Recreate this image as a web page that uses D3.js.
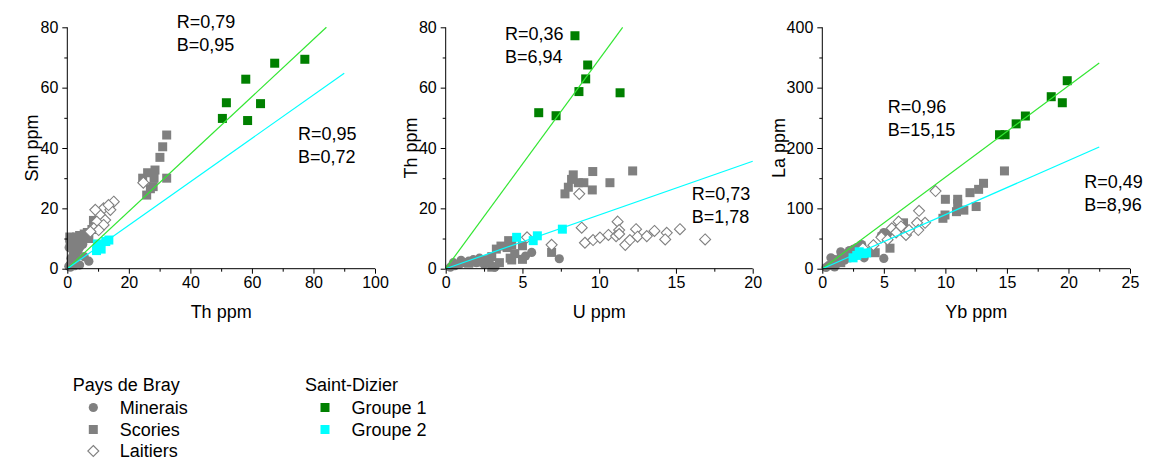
<!DOCTYPE html>
<html><head><meta charset="utf-8">
<script src="https://cdn.jsdelivr.net/npm/d3@7"></script>
<style>body{margin:0;background:#fff}svg{display:block}text{font-family:"Liberation Sans",Arial,sans-serif;fill:#000}</style>
</head><body>
<script>
// ---------- DATA ----------
// Panel 1: Th (x) vs Sm (y)
const p1Minerais = [[0.5,0.8],[1,1.5],[1.5,2.2],[2,2.5],[2.5,3],[3,4],[1.2,3.5],[2,5],[3.5,6],[4,7],[5,8],[2.8,7.5],[1.5,6.5],[4.5,9],[6,10],[3,9.5],[1,0.5],[5.5,4],[7,2.5],[4,1.2],[0.8,9],[0.6,7],[2.5,1]];
const p1Scories = [[1,9],[2,10],[3,10.5],[4,11],[5.5,11.5],[6.5,12],[7,10],[8.5,16],[8,13],[2,8],[3.5,8.5],[5,9.5],[0.8,10.5],
  [32.3,44.3],[31,40.4],[30.1,36.9],[28.5,32.7],[26.1,31.8],[32.3,30],[28.2,30],[24.5,30],[27.9,27.2],[25.8,24.4],[27,26.5]];
const p1Laitiers = [[15.1,22.2],[11.8,20],[14,19.5],[10.7,17.8],[12.3,16.1],[9.6,15.6],[11.8,14.5],[8.6,13.4],[10.2,12.8],[7.5,12.3],[13.4,21.1],[9.1,19.5],[24.7,28.5]];
const p1Groupe1 = [[67.4,68.1],[77.2,69.4],[58.0,62.8],[51.7,55.0],[62.8,54.7],[50.4,49.8],[58.6,49.1]];
const p1Groupe2 = [[9.5,6],[10.5,7.5],[11,6.5],[12.5,9],[13.5,9.5],[9.8,8.2]];
// Panel 2: U (x) vs Th (y)
const p2Minerais = [[0.3,0.5],[0.6,1],[0.9,1.5],[1.2,2],[1.5,2.5],[2,2],[2.5,1.5],[3,1],[3.2,0.5],[1.8,3],[2.2,3.5],[1,2.8],[5.6,5.4],[7.4,3.3],[5.2,4.2],[0.5,2],[2.8,2.6]];
const p2Scories = [[2.5,3],[3,4],[3.3,6.5],[3.6,7.5],[4,7],[4.3,8],[4.5,5],[4.2,3.5],[3.5,2],[3.0,0.5],[2,2.2],[1.5,1.8],[5,7.6],[5,3.1],[6.9,5.4],[4.1,9.3],[4.3,2.9],
  [8.31,31.1],[9.58,32.2],[12.18,32.4],[8.2,29.6],[8.64,28.5],[9.0,28.5],[10.7,28.5],[7.99,27],[9.55,26.1],[7.77,24.8]];
const p2Laitiers = [[8.7,24.8],[11.2,15.6],[8.86,13.6],[15.26,13.1],[12.4,13.1],[13.6,12.5],[11.3,12.8],[16.9,9.7],[14.4,11.9],[9.07,8.6],[9.6,9.5],[10.05,10.3],[10.6,11.2],[11.1,10.8],[11.7,7.9],[12.0,9.5],[12.5,10.6],[13.1,10.8],[14.3,9.7],[6.9,7.9],[5.3,10.4],[11.3,11.5]];
const p2Groupe1 = [[8.42,77.2],[9.25,67.5],[9.12,62.9],[8.68,58.7],[11.36,58.3],[6.06,51.7],[7.19,50.7]];
const p2Groupe2 = [[4.62,10.4],[5.97,10.9],[5.7,9.3],[7.6,13.1]];
// Panel 3: Yb (x) vs La (y)
const p3Minerais = [[0.5,5],[0.8,10],[1,15],[1.2,8],[1.5,20],[1.8,14],[2,25],[2.2,30],[0.3,2],[1,3],[2.5,32],[3.4,18],[5,17],[4.8,55],[5,60],[5.3,58],[2.8,35],[1.5,28],[0.7,18],[3.2,40]];
const p3Scories = [[2,18],[2.5,22],[3,30],[3.5,28],[4.3,26.5],[5.5,34],[6.6,76],[6,65],[1.5,10],
  [14.8,162],[13.1,141.5],[12.7,131.5],[12.0,126],[10.0,115],[11,115],[11,108],[12.5,103],[11.5,97],[10.9,94.5],[9.97,89],[9.8,83.5]];
const p3Laitiers = [[9.2,128.7],[7.86,96],[8.35,76],[7.7,76],[7.8,64],[6.2,78],[5.65,67],[6.0,60],[6.8,56],[4.8,52],[7.05,64],[4.15,39],[3.3,34],[5.3,48],[6.4,70]];
const p3Groupe1 = [[19.9,311.5],[18.6,285],[19.5,275],[16.5,253],[15.75,240],[14.85,222],[14.4,222]];
const p3Groupe2 = [[2.5,18],[3,28],[3.3,25],[3.6,26],[2.8,22]];

const xTicks1 = [0,20,40,60,80,100], yTicks1 = [0,20,40,60,80];
const xTicks2 = [0,5,10,15,20],      yTicks2 = [0,20,40,60,80];
const xTicks3 = [0,5,10,15,20,25],   yTicks3 = [0,100,200,300,400];

const xLabels = ["Th ppm","U ppm","Yb ppm"];
const yLabels = ["Sm ppm","Th ppm","La ppm"];
// regression lines: slope, x-end
const fits = [
  {g:[0.95, 80/0.95], c:[0.72, 90], gText:["R=0,79","B=0,95"], cText:["R=0,95","B=0,72"]},
  {g:[6.94, 80/6.94], c:[1.78, 20], gText:["R=0,36","B=6,94"], cText:["R=0,73","B=1,78"]},
  {g:[15.15, 22.5],   c:[8.96, 22.5], gText:["R=0,96","B=15,15"], cText:["R=0,49","B=8,96"]}
];

// ---------- LAYOUT ----------
const W = 1151, H = 461;
const svg = d3.select("body").append("svg").attr("width", W).attr("height", H);
const GREY = "#808080", DGREEN = "#008000", CYAN = "#00ffff", LGREEN = "#33e633";
const FS = 18;

const panels = [
  {x0:67.3, x1:375, xd:[0,100], yd:[0,80], xt:xTicks1, yt:yTicks1, xm:10, ym:10,
   data:[p1Minerais,p1Scories,p1Laitiers,p1Groupe1,p1Groupe2], gPos:[176.7,28], cPos:[298,140], ylx:32},
  {x0:445.7, x1:752.7, xd:[0,20], yd:[0,80], xt:xTicks2, yt:yTicks2, xm:2.5, ym:10,
   data:[p2Minerais,p2Scories,p2Laitiers,p2Groupe1,p2Groupe2], gPos:[505,40], cPos:[691.7,200], ylx:411},
  {x0:822.3, x1:1130, xd:[0,25], yd:[0,400], xt:xTicks3, yt:yTicks3, xm:2.5, ym:50,
   data:[p3Minerais,p3Scories,p3Laitiers,p3Groupe1,p3Groupe2], gPos:[887.7,113], cPos:[1084.3,188], ylx:779}
];
const yTop = 27.3, yBot = 268.7;

const sq = 9, cr = 4.6, dm = 5.5;
function drawCircle(g, x, y, fill){ g.append("circle").attr("cx",x).attr("cy",y).attr("r",cr).attr("fill",fill); }
function drawSquare(g, x, y, fill){ g.append("rect").attr("x",x-sq/2).attr("y",y-sq/2).attr("width",sq).attr("height",sq).attr("fill",fill); }
function drawDiamond(g, x, y){ g.append("path").attr("d",`M${x},${y-dm}L${x+dm},${y}L${x},${y+dm}L${x-dm},${y}Z`).attr("fill","#fff").attr("stroke",GREY).attr("stroke-width",1.1); }

panels.forEach((p, i) => {
  const xs = d3.scaleLinear().domain(p.xd).range([p.x0, p.x1]);
  const ys = d3.scaleLinear().domain(p.yd).range([yBot, yTop]);
  const g = svg.append("g");

  // points
  const [min, sco, lai, g1, g2] = p.data;
  min.forEach(d => drawCircle(g, xs(d[0]), ys(d[1]), GREY));
  sco.forEach(d => drawSquare(g, xs(d[0]), ys(d[1]), GREY));
  lai.forEach(d => drawDiamond(g, xs(d[0]), ys(d[1])));
  g2.forEach(d => drawSquare(g, xs(d[0]), ys(d[1]), CYAN));
  g1.forEach(d => drawSquare(g, xs(d[0]), ys(d[1]), DGREEN));

  // lines
  const f = fits[i];
  g.append("line").attr("x1",xs(0)).attr("y1",ys(0)).attr("x2",xs(f.g[1])).attr("y2",ys(f.g[0]*f.g[1])).attr("stroke",LGREEN).attr("stroke-width",1.2);
  g.append("line").attr("x1",xs(0)).attr("y1",ys(0)).attr("x2",xs(f.c[1])).attr("y2",ys(f.c[0]*f.c[1])).attr("stroke",CYAN).attr("stroke-width",1.2);

  // axes
  const minorX = d3.range(p.xd[0], p.xd[1] + 1e-9, p.xm).filter(v => !p.xt.includes(v));
  const minorY = d3.range(p.yd[0], p.yd[1] + 1e-9, p.ym).filter(v => !p.yt.includes(v));
  const ax = g.append("g").attr("transform", `translate(0,${yBot})`)
    .call(d3.axisBottom(xs).tickValues(p.xt).tickSize(5).tickPadding(3).tickFormat(d3.format("d")));
  g.append("g").attr("transform", `translate(0,${yBot})`)
    .call(d3.axisBottom(xs).tickValues(minorX).tickSize(3).tickFormat(""))
    .call(s => s.select(".domain").remove());
  const ay = g.append("g").attr("transform", `translate(${p.x0},0)`)
    .call(d3.axisLeft(ys).tickValues(p.yt).tickSize(5).tickPadding(4).tickFormat(d3.format("d")));
  g.append("g").attr("transform", `translate(${p.x0},0)`)
    .call(d3.axisLeft(ys).tickValues(minorY).tickSize(3).tickFormat(""))
    .call(s => s.select(".domain").remove());
  [ax, ay].forEach(a => {
    a.selectAll("text").attr("font-size", 16).attr("font-family","Liberation Sans, Arial, sans-serif").attr("fill","#000");
  });
  ax.select(".domain").attr("d", `M${p.x0},0H${p.x1}`);
  ay.select(".domain").attr("d", `M0,${yBot}V${yTop}`);
  g.selectAll(".tick line").attr("stroke","#000");
  g.selectAll(".domain").attr("stroke","#000");

  // axis labels
  g.append("text").attr("x", (p.x0 + p.x1) / 2).attr("y", 318).attr("text-anchor","middle").attr("font-size",FS).text(xLabels[i]);
  g.append("text").attr("transform", `translate(${p.ylx},${(yTop + yBot) / 2}) rotate(-90)`).attr("dy","0.35em")
    .attr("text-anchor","middle").attr("font-size",FS).text(yLabels[i]);

  // annotations
  [[f.gText, p.gPos], [f.cText, p.cPos]].forEach(([t, pos]) => {
    t.forEach((s, k) => g.append("text").attr("x", pos[0]).attr("y", pos[1] + k * 22.5).attr("font-size", FS).text(s));
  });
});

// ---------- LEGEND ----------
const lg = svg.append("g");
lg.append("text").attr("x",72.7).attr("y",391).attr("font-size",FS).text("Pays de Bray");
lg.append("text").attr("x",305).attr("y",391).attr("font-size",FS).text("Saint-Dizier");
const legItems = [
  {t:"Minerais", x:93.3, y:407.5, kind:"c"},
  {t:"Scories",  x:93.3, y:429.5, kind:"s", fill:GREY},
  {t:"Laitiers", x:93.3, y:451, kind:"d"},
  {t:"Groupe 1", x:325, y:407.5, kind:"s", fill:DGREEN},
  {t:"Groupe 2", x:325, y:429.5, kind:"s", fill:CYAN}
];
legItems.forEach(it => {
  if (it.kind === "c") drawCircle(lg, it.x, it.y, GREY);
  else if (it.kind === "s") drawSquare(lg, it.x, it.y, it.fill);
  else drawDiamond(lg, it.x, it.y);
  lg.append("text").attr("x", it.x + 26.5).attr("y", it.y + 6.3).attr("font-size",FS).text(it.t);
});
</script>
</body></html>
